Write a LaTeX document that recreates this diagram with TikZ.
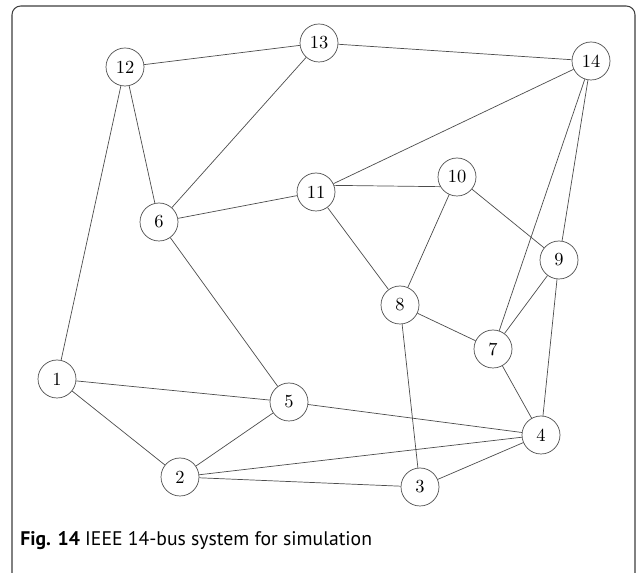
\documentclass[tikz,border=0pt]{standalone}
\usepackage{fontspec}
\usepackage{tikz}
\usetikzlibrary{positioning}
\newfontfamily\legendafont{PT Sans}
\definecolor{linha}{gray}{0.3}

\begin{document}
\begin{tikzpicture}[x=0.02cm, y=-0.02cm,
    bus/.style={circle, draw=linha, thin, minimum size=0.76cm, inner sep=0pt, font=\fontsize{10.5}{12}\selectfont}]
    \useasboundingbox (0,0) rectangle (636,573);
    % Moldura
    \draw[linha!80!black, line width=0.6pt, rounded corners=5] (12,573) -- (12,6) -- (635,6) -- (635,573);
    % Barras
    \node[bus] (b1) at (57,379) {1};
    \node[bus] (b2) at (180,477) {2};
    \node[bus] (b3) at (420,487) {3};
    \node[bus] (b4) at (541,435) {4};
    \node[bus] (b5) at (289,402) {5};
    \node[bus] (b6) at (159,222) {6};
    \node[bus] (b7) at (493,349) {7};
    \node[bus] (b8) at (400,305) {8};
    \node[bus] (b9) at (559,260) {9};
    \node[bus] (b10) at (457,177) {10};
    \node[bus] (b11) at (316,192) {11};
    \node[bus] (b12) at (125,67) {12};
    \node[bus] (b13) at (319,43) {13};
    \node[bus] (b14) at (591,61) {14};
    % Linhas
    \draw[linha, thin] (b12) -- (b13);
    \draw[linha, thin] (b13) -- (b14);
    \draw[linha, thin] (b12) -- (b6);
    \draw[linha, thin] (b12) -- (b1);
    \draw[linha, thin] (b13) -- (b6);
    \draw[linha, thin] (b14) -- (b11);
    \draw[linha, thin] (b14) -- (b7);
    \draw[linha, thin] (b14) -- (b9);
    \draw[linha, thin] (b6) -- (b11);
    \draw[linha, thin] (b11.20) -- (b10.210);
    \draw[linha, thin] (b11) -- (b8);
    \draw[linha, thin] (b10) -- (b8);
    \draw[linha, thin] (b10) -- (b9);
    \draw[linha, thin] (b9) -- (b7);
    \draw[linha, thin] (b9) -- (b4);
    \draw[linha, thin] (b8) -- (b7);
    \draw[linha, thin] (b8) -- (b3);
    \draw[linha, thin] (b7) -- (b4);
    \draw[linha, thin] (b6) -- (b5);
    \draw[linha, thin] (b1) -- (b5);
    \draw[linha, thin] (b1) -- (b2);
    \draw[linha, thin] (b5) -- (b4);
    \draw[linha, thin] (b5) -- (b2);
    \draw[linha, thin] (b2) -- (b4);
    \draw[linha, thin] (b2) -- (b3);
    \draw[linha, thin] (b3) -- (b4);
    % Legenda
    \node[anchor=west, inner sep=0pt, font=\legendafont\fontsize{11.2}{13}\selectfont] (legenda) at (20,541)
        {\textbf{Fig. 14} IEEE 14-bus system for simulation};
\end{tikzpicture}
\end{document}
